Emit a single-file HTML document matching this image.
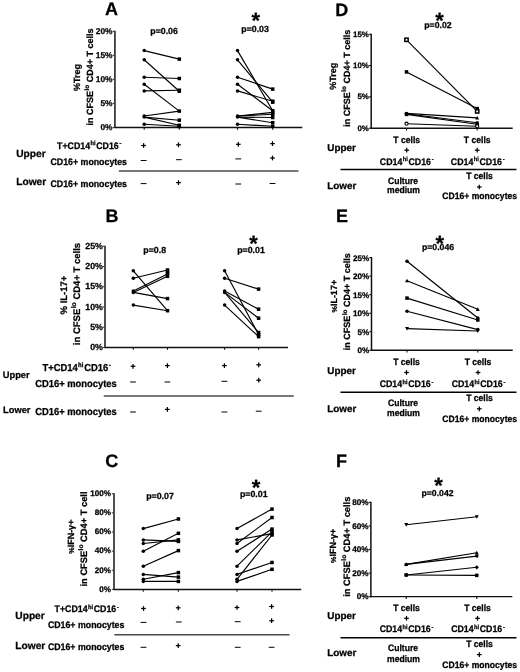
<!DOCTYPE html><html><head><meta charset="utf-8"><style>html,body{margin:0;padding:0;background:#fff;}svg{display:block;will-change:transform;}</style></head><body>
<svg width="520" height="672" viewBox="0 0 520 672" font-family="Liberation Sans" font-weight="bold" fill="#000" text-rendering="geometricPrecision">
<rect width="520" height="672" fill="#fff"/>
<text x="105.00" y="15.00" font-size="18" text-anchor="start" stroke="#000" stroke-width="0.25" >A</text>
<line x1="114.90" y1="30.70" x2="114.90" y2="128.10" stroke="#3c3c3c" stroke-width="1.8"/>
<line x1="114.20" y1="127.50" x2="302.30" y2="127.50" stroke="#111" stroke-width="1.45"/>
<line x1="112.70" y1="127.50" x2="114.90" y2="127.50" stroke="#3c3c3c" stroke-width="1.1"/>
<text x="112.50" y="130.31" font-size="8.4" text-anchor="end" stroke="#000" stroke-width="0.25" >0%</text>
<line x1="112.70" y1="103.45" x2="114.90" y2="103.45" stroke="#3c3c3c" stroke-width="1.1"/>
<text x="112.50" y="106.26" font-size="8.4" text-anchor="end" stroke="#000" stroke-width="0.25" >5%</text>
<line x1="112.70" y1="79.40" x2="114.90" y2="79.40" stroke="#3c3c3c" stroke-width="1.1"/>
<text x="112.50" y="82.21" font-size="8.4" text-anchor="end" stroke="#000" stroke-width="0.25" >10%</text>
<line x1="112.70" y1="55.35" x2="114.90" y2="55.35" stroke="#3c3c3c" stroke-width="1.1"/>
<text x="112.50" y="58.16" font-size="8.4" text-anchor="end" stroke="#000" stroke-width="0.25" >15%</text>
<line x1="112.70" y1="31.30" x2="114.90" y2="31.30" stroke="#3c3c3c" stroke-width="1.1"/>
<text x="112.50" y="34.11" font-size="8.4" text-anchor="end" stroke="#000" stroke-width="0.25" >20%</text>
<line x1="144.20" y1="127.50" x2="144.20" y2="129.80" stroke="#111" stroke-width="1.1"/>
<line x1="179.30" y1="127.50" x2="179.30" y2="129.80" stroke="#111" stroke-width="1.1"/>
<line x1="237.50" y1="127.50" x2="237.50" y2="129.80" stroke="#111" stroke-width="1.1"/>
<line x1="272.70" y1="127.50" x2="272.70" y2="129.80" stroke="#111" stroke-width="1.1"/>
<line x1="144.20" y1="50.60" x2="179.30" y2="59.10" stroke="#000" stroke-width="1.15"/>
<line x1="144.20" y1="59.80" x2="179.30" y2="91.20" stroke="#000" stroke-width="1.15"/>
<line x1="144.20" y1="77.20" x2="179.30" y2="78.50" stroke="#000" stroke-width="1.15"/>
<line x1="144.20" y1="84.30" x2="179.30" y2="111.10" stroke="#000" stroke-width="1.15"/>
<line x1="144.20" y1="90.90" x2="179.30" y2="90.20" stroke="#000" stroke-width="1.15"/>
<line x1="144.20" y1="116.00" x2="179.30" y2="111.10" stroke="#000" stroke-width="1.15"/>
<line x1="144.20" y1="117.10" x2="179.30" y2="120.20" stroke="#000" stroke-width="1.15"/>
<line x1="144.20" y1="117.10" x2="179.30" y2="125.30" stroke="#000" stroke-width="1.15"/>
<line x1="144.20" y1="124.20" x2="179.30" y2="126.30" stroke="#000" stroke-width="1.15"/>
<circle cx="144.20" cy="50.60" r="1.75" fill="#000"/>
<circle cx="144.20" cy="59.80" r="1.75" fill="#000"/>
<circle cx="144.20" cy="77.20" r="1.75" fill="#000"/>
<circle cx="144.20" cy="84.30" r="1.75" fill="#000"/>
<circle cx="144.20" cy="90.90" r="1.75" fill="#000"/>
<circle cx="144.20" cy="116.00" r="1.75" fill="#000"/>
<circle cx="144.20" cy="117.10" r="1.75" fill="#000"/>
<circle cx="144.20" cy="124.20" r="1.75" fill="#000"/>
<rect x="177.55" y="57.35" width="3.50" height="3.50" fill="#000"/>
<rect x="177.55" y="76.75" width="3.50" height="3.50" fill="#000"/>
<rect x="177.55" y="88.45" width="3.50" height="3.50" fill="#000"/>
<rect x="177.55" y="89.45" width="3.50" height="3.50" fill="#000"/>
<rect x="177.55" y="109.35" width="3.50" height="3.50" fill="#000"/>
<rect x="177.55" y="118.45" width="3.50" height="3.50" fill="#000"/>
<rect x="177.55" y="123.55" width="3.50" height="3.50" fill="#000"/>
<rect x="177.55" y="124.55" width="3.50" height="3.50" fill="#000"/>
<line x1="237.50" y1="50.60" x2="272.70" y2="110.70" stroke="#000" stroke-width="1.15"/>
<line x1="237.50" y1="59.80" x2="272.70" y2="102.20" stroke="#000" stroke-width="1.15"/>
<line x1="237.50" y1="77.20" x2="272.70" y2="89.10" stroke="#000" stroke-width="1.15"/>
<line x1="237.50" y1="84.30" x2="272.70" y2="110.70" stroke="#000" stroke-width="1.15"/>
<line x1="237.50" y1="90.90" x2="272.70" y2="101.20" stroke="#000" stroke-width="1.15"/>
<line x1="237.50" y1="116.00" x2="272.70" y2="112.40" stroke="#000" stroke-width="1.15"/>
<line x1="237.50" y1="116.00" x2="272.70" y2="114.30" stroke="#000" stroke-width="1.15"/>
<line x1="237.50" y1="117.10" x2="272.70" y2="117.50" stroke="#000" stroke-width="1.15"/>
<line x1="237.50" y1="117.10" x2="272.70" y2="122.70" stroke="#000" stroke-width="1.15"/>
<line x1="237.50" y1="124.20" x2="272.70" y2="126.30" stroke="#000" stroke-width="1.15"/>
<circle cx="237.50" cy="50.60" r="1.75" fill="#000"/>
<circle cx="237.50" cy="59.80" r="1.75" fill="#000"/>
<circle cx="237.50" cy="77.20" r="1.75" fill="#000"/>
<circle cx="237.50" cy="84.30" r="1.75" fill="#000"/>
<circle cx="237.50" cy="90.90" r="1.75" fill="#000"/>
<circle cx="237.50" cy="116.00" r="1.75" fill="#000"/>
<circle cx="237.50" cy="117.10" r="1.75" fill="#000"/>
<circle cx="237.50" cy="124.20" r="1.75" fill="#000"/>
<rect x="270.95" y="87.35" width="3.50" height="3.50" fill="#000"/>
<rect x="270.95" y="99.45" width="3.50" height="3.50" fill="#000"/>
<rect x="270.95" y="100.45" width="3.50" height="3.50" fill="#000"/>
<rect x="270.95" y="108.95" width="3.50" height="3.50" fill="#000"/>
<rect x="270.95" y="110.65" width="3.50" height="3.50" fill="#000"/>
<rect x="270.95" y="112.55" width="3.50" height="3.50" fill="#000"/>
<rect x="270.95" y="115.75" width="3.50" height="3.50" fill="#000"/>
<rect x="270.95" y="120.95" width="3.50" height="3.50" fill="#000"/>
<rect x="270.95" y="124.55" width="3.50" height="3.50" fill="#000"/>
<text x="164.10" y="33.70" font-size="8.8" text-anchor="middle" stroke="#000" stroke-width="0.25" >p=0.06</text>
<text x="255.10" y="31.80" font-size="8.8" text-anchor="middle" stroke="#000" stroke-width="0.25" >p=0.03</text>
<text x="255.80" y="27.50" font-size="22" text-anchor="middle" stroke="#000" stroke-width="0.25" >*</text>
<text x="0" y="0" font-size="9" text-anchor="middle" stroke="#000" stroke-width="0.25" transform="translate(80.40,77.60) rotate(-90)">%Treg</text>
<text x="0" y="0" font-size="9" text-anchor="middle" stroke="#000" stroke-width="0.25" transform="translate(93.00,77.00) rotate(-90)">in CFSE<tspan font-size="6.48" dx="0.4" dy="-3.60">lo</tspan><tspan dy="3.60"> CD4+ T cells</tspan></text>
<text transform="translate(121.30,148.80) scale(1,1.08)" font-size="8.8" text-anchor="end" stroke="#000" stroke-width="0.25" >T+CD14<tspan font-size="5.63" dx="0.42" dy="-3.17">hi</tspan><tspan dx="0.70" dy="3.17">CD16</tspan><tspan font-size="5.63" dx="0.70" dy="-3.17">-</tspan></text>
<text transform="translate(127.00,165.00) scale(1,1.08)" font-size="8.8" text-anchor="end" stroke="#000" stroke-width="0.25" >CD16+ monocytes</text>
<text transform="translate(127.00,187.00) scale(1,1.08)" font-size="8.8" text-anchor="end" stroke="#000" stroke-width="0.25" >CD16+ monocytes</text>
<text x="16.20" y="156.80" font-size="10.2" text-anchor="start" stroke="#000" stroke-width="0.25" >Upper</text>
<text x="16.20" y="185.20" font-size="10.2" text-anchor="start" stroke="#000" stroke-width="0.25" >Lower</text>
<line x1="141.25" y1="145.50" x2="145.95" y2="145.50" stroke="#000" stroke-width="1.25"/>
<line x1="143.60" y1="143.15" x2="143.60" y2="147.85" stroke="#000" stroke-width="1.25"/>
<line x1="176.15" y1="144.80" x2="180.85" y2="144.80" stroke="#000" stroke-width="1.25"/>
<line x1="178.50" y1="142.45" x2="178.50" y2="147.15" stroke="#000" stroke-width="1.25"/>
<line x1="235.95" y1="144.30" x2="240.65" y2="144.30" stroke="#000" stroke-width="1.25"/>
<line x1="238.30" y1="141.95" x2="238.30" y2="146.65" stroke="#000" stroke-width="1.25"/>
<line x1="270.15" y1="143.60" x2="274.85" y2="143.60" stroke="#000" stroke-width="1.25"/>
<line x1="272.50" y1="141.25" x2="272.50" y2="145.95" stroke="#000" stroke-width="1.25"/>
<line x1="140.70" y1="160.50" x2="146.50" y2="160.50" stroke="#000" stroke-width="1.0"/>
<line x1="176.00" y1="159.70" x2="181.80" y2="159.70" stroke="#000" stroke-width="1.0"/>
<line x1="235.40" y1="158.90" x2="241.20" y2="158.90" stroke="#000" stroke-width="1.0"/>
<line x1="270.15" y1="158.00" x2="274.85" y2="158.00" stroke="#000" stroke-width="1.25"/>
<line x1="272.50" y1="155.65" x2="272.50" y2="160.35" stroke="#000" stroke-width="1.25"/>
<line x1="140.70" y1="183.60" x2="146.50" y2="183.60" stroke="#000" stroke-width="1.0"/>
<line x1="176.15" y1="182.60" x2="180.85" y2="182.60" stroke="#000" stroke-width="1.25"/>
<line x1="178.50" y1="180.25" x2="178.50" y2="184.95" stroke="#000" stroke-width="1.25"/>
<line x1="235.40" y1="184.00" x2="241.20" y2="184.00" stroke="#000" stroke-width="1.0"/>
<line x1="269.60" y1="183.50" x2="275.40" y2="183.50" stroke="#000" stroke-width="1.0"/>
<line x1="118.80" y1="171.00" x2="298.50" y2="171.00" stroke="#4a4a4a" stroke-width="1.5"/>
<text x="105.60" y="221.80" font-size="18" text-anchor="start" stroke="#000" stroke-width="0.25" >B</text>
<line x1="105.00" y1="245.70" x2="105.00" y2="348.10" stroke="#3c3c3c" stroke-width="1.8"/>
<line x1="104.30" y1="347.50" x2="288.00" y2="347.50" stroke="#111" stroke-width="1.45"/>
<line x1="102.80" y1="347.50" x2="105.00" y2="347.50" stroke="#3c3c3c" stroke-width="1.1"/>
<text x="102.90" y="350.15" font-size="8.8" text-anchor="end" stroke="#000" stroke-width="0.25" >0%</text>
<line x1="102.80" y1="327.26" x2="105.00" y2="327.26" stroke="#3c3c3c" stroke-width="1.1"/>
<text x="102.90" y="329.91" font-size="8.8" text-anchor="end" stroke="#000" stroke-width="0.25" >5%</text>
<line x1="102.80" y1="307.02" x2="105.00" y2="307.02" stroke="#3c3c3c" stroke-width="1.1"/>
<text x="102.90" y="309.67" font-size="8.8" text-anchor="end" stroke="#000" stroke-width="0.25" >10%</text>
<line x1="102.80" y1="286.78" x2="105.00" y2="286.78" stroke="#3c3c3c" stroke-width="1.1"/>
<text x="102.90" y="289.43" font-size="8.8" text-anchor="end" stroke="#000" stroke-width="0.25" >15%</text>
<line x1="102.80" y1="266.54" x2="105.00" y2="266.54" stroke="#3c3c3c" stroke-width="1.1"/>
<text x="102.90" y="269.19" font-size="8.8" text-anchor="end" stroke="#000" stroke-width="0.25" >20%</text>
<line x1="102.80" y1="246.30" x2="105.00" y2="246.30" stroke="#3c3c3c" stroke-width="1.1"/>
<text x="102.90" y="248.95" font-size="8.8" text-anchor="end" stroke="#000" stroke-width="0.25" >25%</text>
<line x1="133.30" y1="347.50" x2="133.30" y2="349.80" stroke="#111" stroke-width="1.1"/>
<line x1="167.50" y1="347.50" x2="167.50" y2="349.80" stroke="#111" stroke-width="1.1"/>
<line x1="224.60" y1="347.50" x2="224.60" y2="349.80" stroke="#111" stroke-width="1.1"/>
<line x1="258.60" y1="347.50" x2="258.60" y2="349.80" stroke="#111" stroke-width="1.1"/>
<line x1="133.30" y1="270.80" x2="167.50" y2="310.70" stroke="#000" stroke-width="1.15"/>
<line x1="133.30" y1="278.30" x2="167.50" y2="270.00" stroke="#000" stroke-width="1.15"/>
<line x1="133.30" y1="291.10" x2="167.50" y2="273.90" stroke="#000" stroke-width="1.15"/>
<line x1="133.30" y1="292.40" x2="167.50" y2="276.30" stroke="#000" stroke-width="1.15"/>
<line x1="133.30" y1="292.40" x2="167.50" y2="298.60" stroke="#000" stroke-width="1.15"/>
<line x1="133.30" y1="305.10" x2="167.50" y2="310.70" stroke="#000" stroke-width="1.15"/>
<circle cx="133.30" cy="270.80" r="1.75" fill="#000"/>
<circle cx="133.30" cy="278.30" r="1.75" fill="#000"/>
<circle cx="133.30" cy="291.10" r="1.75" fill="#000"/>
<circle cx="133.30" cy="292.40" r="1.75" fill="#000"/>
<circle cx="133.30" cy="305.10" r="1.75" fill="#000"/>
<rect x="165.75" y="268.25" width="3.50" height="3.50" fill="#000"/>
<rect x="165.75" y="270.45" width="3.50" height="3.50" fill="#000"/>
<rect x="165.75" y="272.15" width="3.50" height="3.50" fill="#000"/>
<rect x="165.75" y="274.55" width="3.50" height="3.50" fill="#000"/>
<rect x="165.75" y="296.85" width="3.50" height="3.50" fill="#000"/>
<rect x="165.75" y="308.95" width="3.50" height="3.50" fill="#000"/>
<line x1="224.60" y1="270.80" x2="258.60" y2="334.60" stroke="#000" stroke-width="1.15"/>
<line x1="224.60" y1="278.30" x2="258.60" y2="289.10" stroke="#000" stroke-width="1.15"/>
<line x1="224.60" y1="291.10" x2="258.60" y2="309.20" stroke="#000" stroke-width="1.15"/>
<line x1="224.60" y1="292.40" x2="258.60" y2="318.20" stroke="#000" stroke-width="1.15"/>
<line x1="224.60" y1="292.40" x2="258.60" y2="332.50" stroke="#000" stroke-width="1.15"/>
<line x1="224.60" y1="305.10" x2="258.60" y2="336.60" stroke="#000" stroke-width="1.15"/>
<circle cx="224.60" cy="270.80" r="1.75" fill="#000"/>
<circle cx="224.60" cy="278.30" r="1.75" fill="#000"/>
<circle cx="224.60" cy="291.10" r="1.75" fill="#000"/>
<circle cx="224.60" cy="292.40" r="1.75" fill="#000"/>
<circle cx="224.60" cy="305.10" r="1.75" fill="#000"/>
<rect x="256.85" y="287.35" width="3.50" height="3.50" fill="#000"/>
<rect x="256.85" y="307.45" width="3.50" height="3.50" fill="#000"/>
<rect x="256.85" y="316.45" width="3.50" height="3.50" fill="#000"/>
<rect x="256.85" y="330.75" width="3.50" height="3.50" fill="#000"/>
<rect x="256.85" y="332.85" width="3.50" height="3.50" fill="#000"/>
<rect x="256.85" y="334.85" width="3.50" height="3.50" fill="#000"/>
<text x="154.70" y="253.10" font-size="8.8" text-anchor="middle" stroke="#000" stroke-width="0.25" >p=0.8</text>
<text x="251.00" y="252.50" font-size="8.8" text-anchor="middle" stroke="#000" stroke-width="0.25" >p=0.01</text>
<text x="253.60" y="251.00" font-size="22" text-anchor="middle" stroke="#000" stroke-width="0.25" >*</text>
<text x="0" y="0" font-size="9.5" text-anchor="middle" stroke="#000" stroke-width="0.25" transform="translate(67.20,295.00) rotate(-90)">% IL-17+</text>
<text x="0" y="0" font-size="9.5" text-anchor="middle" stroke="#000" stroke-width="0.25" transform="translate(80.00,294.00) rotate(-90)">in CFSE<tspan font-size="6.84" dx="0.4" dy="-3.80">lo</tspan><tspan dy="3.80"> CD4+ T cells</tspan></text>
<text transform="translate(110.80,370.50) scale(1,1.08)" font-size="9.4" text-anchor="end" stroke="#000" stroke-width="0.25" >T+CD14<tspan font-size="6.02" dx="0.42" dy="-3.38">hi</tspan><tspan dx="0.70" dy="3.38">CD16</tspan><tspan font-size="6.02" dx="0.70" dy="-3.38">-</tspan></text>
<text transform="translate(116.75,387.00) scale(1,1.08)" font-size="9.4" text-anchor="end" stroke="#000" stroke-width="0.25" >CD16+ monocytes</text>
<text transform="translate(116.75,415.00) scale(1,1.08)" font-size="9.4" text-anchor="end" stroke="#000" stroke-width="0.25" >CD16+ monocytes</text>
<text x="2.80" y="378.40" font-size="9.3" text-anchor="start" stroke="#000" stroke-width="0.25" >Upper</text>
<text x="3.10" y="412.60" font-size="9.3" text-anchor="start" stroke="#000" stroke-width="0.25" >Lower</text>
<line x1="130.65" y1="366.30" x2="135.35" y2="366.30" stroke="#000" stroke-width="1.25"/>
<line x1="133.00" y1="363.95" x2="133.00" y2="368.65" stroke="#000" stroke-width="1.25"/>
<line x1="165.05" y1="365.60" x2="169.75" y2="365.60" stroke="#000" stroke-width="1.25"/>
<line x1="167.40" y1="363.25" x2="167.40" y2="367.95" stroke="#000" stroke-width="1.25"/>
<line x1="222.05" y1="365.60" x2="226.75" y2="365.60" stroke="#000" stroke-width="1.25"/>
<line x1="224.40" y1="363.25" x2="224.40" y2="367.95" stroke="#000" stroke-width="1.25"/>
<line x1="256.35" y1="364.80" x2="261.05" y2="364.80" stroke="#000" stroke-width="1.25"/>
<line x1="258.70" y1="362.45" x2="258.70" y2="367.15" stroke="#000" stroke-width="1.25"/>
<line x1="130.10" y1="382.00" x2="135.90" y2="382.00" stroke="#000" stroke-width="1.0"/>
<line x1="164.50" y1="382.00" x2="170.30" y2="382.00" stroke="#000" stroke-width="1.0"/>
<line x1="221.50" y1="381.30" x2="227.30" y2="381.30" stroke="#000" stroke-width="1.0"/>
<line x1="256.35" y1="380.20" x2="261.05" y2="380.20" stroke="#000" stroke-width="1.25"/>
<line x1="258.70" y1="377.85" x2="258.70" y2="382.55" stroke="#000" stroke-width="1.25"/>
<line x1="130.10" y1="412.00" x2="135.90" y2="412.00" stroke="#000" stroke-width="1.0"/>
<line x1="165.05" y1="409.40" x2="169.75" y2="409.40" stroke="#000" stroke-width="1.25"/>
<line x1="167.40" y1="407.05" x2="167.40" y2="411.75" stroke="#000" stroke-width="1.25"/>
<line x1="221.50" y1="412.00" x2="227.30" y2="412.00" stroke="#000" stroke-width="1.0"/>
<line x1="255.80" y1="411.20" x2="261.60" y2="411.20" stroke="#000" stroke-width="1.0"/>
<line x1="103.75" y1="395.90" x2="293.80" y2="395.90" stroke="#4a4a4a" stroke-width="1.5"/>
<text x="105.30" y="467.00" font-size="18" text-anchor="start" stroke="#000" stroke-width="0.25" >C</text>
<line x1="114.00" y1="493.15" x2="114.00" y2="590.00" stroke="#3c3c3c" stroke-width="1.8"/>
<line x1="113.30" y1="589.40" x2="301.20" y2="589.40" stroke="#111" stroke-width="1.45"/>
<line x1="111.80" y1="589.40" x2="114.00" y2="589.40" stroke="#3c3c3c" stroke-width="1.1"/>
<text x="110.90" y="591.70" font-size="8.1" text-anchor="end" stroke="#000" stroke-width="0.25" >0%</text>
<line x1="111.80" y1="570.27" x2="114.00" y2="570.27" stroke="#3c3c3c" stroke-width="1.1"/>
<text x="110.90" y="572.57" font-size="8.1" text-anchor="end" stroke="#000" stroke-width="0.25" >20%</text>
<line x1="111.80" y1="551.14" x2="114.00" y2="551.14" stroke="#3c3c3c" stroke-width="1.1"/>
<text x="110.90" y="553.44" font-size="8.1" text-anchor="end" stroke="#000" stroke-width="0.25" >40%</text>
<line x1="111.80" y1="532.01" x2="114.00" y2="532.01" stroke="#3c3c3c" stroke-width="1.1"/>
<text x="110.90" y="534.31" font-size="8.1" text-anchor="end" stroke="#000" stroke-width="0.25" >60%</text>
<line x1="111.80" y1="512.88" x2="114.00" y2="512.88" stroke="#3c3c3c" stroke-width="1.1"/>
<text x="110.90" y="515.18" font-size="8.1" text-anchor="end" stroke="#000" stroke-width="0.25" >80%</text>
<line x1="111.80" y1="493.75" x2="114.00" y2="493.75" stroke="#3c3c3c" stroke-width="1.1"/>
<text x="110.90" y="496.05" font-size="8.1" text-anchor="end" stroke="#000" stroke-width="0.25" >100%</text>
<line x1="143.30" y1="589.40" x2="143.30" y2="591.70" stroke="#111" stroke-width="1.1"/>
<line x1="178.40" y1="589.40" x2="178.40" y2="591.70" stroke="#111" stroke-width="1.1"/>
<line x1="237.00" y1="589.40" x2="237.00" y2="591.70" stroke="#111" stroke-width="1.1"/>
<line x1="272.00" y1="589.40" x2="272.00" y2="591.70" stroke="#111" stroke-width="1.1"/>
<line x1="143.30" y1="528.60" x2="178.40" y2="519.00" stroke="#000" stroke-width="1.15"/>
<line x1="143.30" y1="539.90" x2="178.40" y2="541.40" stroke="#000" stroke-width="1.15"/>
<line x1="143.30" y1="543.50" x2="178.40" y2="539.90" stroke="#000" stroke-width="1.15"/>
<line x1="143.30" y1="551.30" x2="178.40" y2="533.30" stroke="#000" stroke-width="1.15"/>
<line x1="143.30" y1="566.20" x2="178.40" y2="550.60" stroke="#000" stroke-width="1.15"/>
<line x1="143.30" y1="574.40" x2="178.40" y2="577.10" stroke="#000" stroke-width="1.15"/>
<line x1="143.30" y1="579.30" x2="178.40" y2="572.60" stroke="#000" stroke-width="1.15"/>
<line x1="143.30" y1="581.40" x2="178.40" y2="581.40" stroke="#000" stroke-width="1.15"/>
<circle cx="143.30" cy="528.60" r="1.75" fill="#000"/>
<circle cx="143.30" cy="539.90" r="1.75" fill="#000"/>
<circle cx="143.30" cy="543.50" r="1.75" fill="#000"/>
<circle cx="143.30" cy="551.30" r="1.75" fill="#000"/>
<circle cx="143.30" cy="566.20" r="1.75" fill="#000"/>
<circle cx="143.30" cy="574.40" r="1.75" fill="#000"/>
<circle cx="143.30" cy="579.30" r="1.75" fill="#000"/>
<circle cx="143.30" cy="581.40" r="1.75" fill="#000"/>
<rect x="176.65" y="517.25" width="3.50" height="3.50" fill="#000"/>
<rect x="176.65" y="531.55" width="3.50" height="3.50" fill="#000"/>
<rect x="176.65" y="538.15" width="3.50" height="3.50" fill="#000"/>
<rect x="176.65" y="539.65" width="3.50" height="3.50" fill="#000"/>
<rect x="176.65" y="548.85" width="3.50" height="3.50" fill="#000"/>
<rect x="176.65" y="570.85" width="3.50" height="3.50" fill="#000"/>
<rect x="176.65" y="575.35" width="3.50" height="3.50" fill="#000"/>
<rect x="176.65" y="579.65" width="3.50" height="3.50" fill="#000"/>
<line x1="237.00" y1="528.60" x2="272.00" y2="509.10" stroke="#000" stroke-width="1.15"/>
<line x1="237.00" y1="539.90" x2="272.00" y2="533.60" stroke="#000" stroke-width="1.15"/>
<line x1="237.00" y1="543.50" x2="272.00" y2="517.50" stroke="#000" stroke-width="1.15"/>
<line x1="237.00" y1="551.30" x2="272.00" y2="529.10" stroke="#000" stroke-width="1.15"/>
<line x1="237.00" y1="566.20" x2="272.00" y2="531.80" stroke="#000" stroke-width="1.15"/>
<line x1="237.00" y1="574.40" x2="272.00" y2="562.50" stroke="#000" stroke-width="1.15"/>
<line x1="237.00" y1="579.30" x2="272.00" y2="535.00" stroke="#000" stroke-width="1.15"/>
<line x1="237.00" y1="581.40" x2="272.00" y2="569.30" stroke="#000" stroke-width="1.15"/>
<circle cx="237.00" cy="528.60" r="1.75" fill="#000"/>
<circle cx="237.00" cy="539.90" r="1.75" fill="#000"/>
<circle cx="237.00" cy="543.50" r="1.75" fill="#000"/>
<circle cx="237.00" cy="551.30" r="1.75" fill="#000"/>
<circle cx="237.00" cy="566.20" r="1.75" fill="#000"/>
<circle cx="237.00" cy="574.40" r="1.75" fill="#000"/>
<circle cx="237.00" cy="579.30" r="1.75" fill="#000"/>
<circle cx="237.00" cy="581.40" r="1.75" fill="#000"/>
<rect x="270.25" y="507.35" width="3.50" height="3.50" fill="#000"/>
<rect x="270.25" y="515.75" width="3.50" height="3.50" fill="#000"/>
<rect x="270.25" y="527.35" width="3.50" height="3.50" fill="#000"/>
<rect x="270.25" y="530.05" width="3.50" height="3.50" fill="#000"/>
<rect x="270.25" y="531.85" width="3.50" height="3.50" fill="#000"/>
<rect x="270.25" y="533.25" width="3.50" height="3.50" fill="#000"/>
<rect x="270.25" y="560.75" width="3.50" height="3.50" fill="#000"/>
<rect x="270.25" y="567.55" width="3.50" height="3.50" fill="#000"/>
<text x="160.00" y="498.80" font-size="8.8" text-anchor="middle" stroke="#000" stroke-width="0.25" >p=0.07</text>
<text x="253.80" y="496.50" font-size="8.8" text-anchor="middle" stroke="#000" stroke-width="0.25" >p=0.01</text>
<text x="256.00" y="495.10" font-size="22" text-anchor="middle" stroke="#000" stroke-width="0.25" >*</text>
<text x="0" y="0" font-size="9" text-anchor="middle" stroke="#000" stroke-width="0.25" transform="translate(74.00,536.70) rotate(-90)"><tspan font-size="7.2">%</tspan>IFN-&#947;+</text>
<text x="0" y="0" font-size="9.3" text-anchor="middle" stroke="#000" stroke-width="0.25" transform="translate(87.20,539.00) rotate(-90)">in CFSE<tspan font-size="6.70" dx="0.4" dy="-3.72">lo</tspan><tspan dy="3.72"> CD4+ T cell</tspan></text>
<text transform="translate(118.80,612.40) scale(1,1.08)" font-size="8.8" text-anchor="end" stroke="#000" stroke-width="0.25" >T+CD14<tspan font-size="5.63" dx="0.42" dy="-3.17">hi</tspan><tspan dx="0.70" dy="3.17">CD16</tspan><tspan font-size="5.63" dx="0.70" dy="-3.17">-</tspan></text>
<text transform="translate(124.40,627.80) scale(1,1.08)" font-size="8.8" text-anchor="end" stroke="#000" stroke-width="0.25" >CD16+ monocytes</text>
<text transform="translate(124.40,650.20) scale(1,1.08)" font-size="8.8" text-anchor="end" stroke="#000" stroke-width="0.25" >CD16+ monocytes</text>
<text x="15.30" y="618.80" font-size="10.2" text-anchor="start" stroke="#000" stroke-width="0.25" >Upper</text>
<text x="15.30" y="648.50" font-size="10.2" text-anchor="start" stroke="#000" stroke-width="0.25" >Lower</text>
<line x1="141.15" y1="608.50" x2="145.85" y2="608.50" stroke="#000" stroke-width="1.25"/>
<line x1="143.50" y1="606.15" x2="143.50" y2="610.85" stroke="#000" stroke-width="1.25"/>
<line x1="175.85" y1="607.80" x2="180.55" y2="607.80" stroke="#000" stroke-width="1.25"/>
<line x1="178.20" y1="605.45" x2="178.20" y2="610.15" stroke="#000" stroke-width="1.25"/>
<line x1="234.65" y1="607.50" x2="239.35" y2="607.50" stroke="#000" stroke-width="1.25"/>
<line x1="237.00" y1="605.15" x2="237.00" y2="609.85" stroke="#000" stroke-width="1.25"/>
<line x1="269.25" y1="606.50" x2="273.95" y2="606.50" stroke="#000" stroke-width="1.25"/>
<line x1="271.60" y1="604.15" x2="271.60" y2="608.85" stroke="#000" stroke-width="1.25"/>
<line x1="140.60" y1="622.40" x2="146.40" y2="622.40" stroke="#000" stroke-width="1.0"/>
<line x1="175.90" y1="622.00" x2="181.70" y2="622.00" stroke="#000" stroke-width="1.0"/>
<line x1="234.80" y1="621.70" x2="240.60" y2="621.70" stroke="#000" stroke-width="1.0"/>
<line x1="269.25" y1="620.70" x2="273.95" y2="620.70" stroke="#000" stroke-width="1.25"/>
<line x1="271.60" y1="618.35" x2="271.60" y2="623.05" stroke="#000" stroke-width="1.25"/>
<line x1="140.60" y1="647.30" x2="146.40" y2="647.30" stroke="#000" stroke-width="1.0"/>
<line x1="175.85" y1="645.60" x2="180.55" y2="645.60" stroke="#000" stroke-width="1.25"/>
<line x1="178.20" y1="643.25" x2="178.20" y2="647.95" stroke="#000" stroke-width="1.25"/>
<line x1="234.80" y1="647.30" x2="240.60" y2="647.30" stroke="#000" stroke-width="1.0"/>
<line x1="268.70" y1="647.30" x2="274.50" y2="647.30" stroke="#000" stroke-width="1.0"/>
<line x1="114.40" y1="634.80" x2="289.50" y2="634.80" stroke="#4a4a4a" stroke-width="1.5"/>
<text x="335.20" y="15.50" font-size="18" text-anchor="start" stroke="#000" stroke-width="0.25" >D</text>
<line x1="371.20" y1="33.70" x2="371.20" y2="128.80" stroke="#111" stroke-width="1.5"/>
<line x1="370.50" y1="128.20" x2="512.70" y2="128.20" stroke="#111" stroke-width="1.45"/>
<line x1="369.00" y1="128.20" x2="371.20" y2="128.20" stroke="#111" stroke-width="1.1"/>
<text x="368.80" y="130.73" font-size="7.9" text-anchor="end" stroke="#000" stroke-width="0.25" >0%</text>
<line x1="369.00" y1="96.90" x2="371.20" y2="96.90" stroke="#111" stroke-width="1.1"/>
<text x="368.80" y="99.43" font-size="7.9" text-anchor="end" stroke="#000" stroke-width="0.25" >5%</text>
<line x1="369.00" y1="65.60" x2="371.20" y2="65.60" stroke="#111" stroke-width="1.1"/>
<text x="368.80" y="68.13" font-size="7.9" text-anchor="end" stroke="#000" stroke-width="0.25" >10%</text>
<line x1="369.00" y1="34.30" x2="371.20" y2="34.30" stroke="#111" stroke-width="1.1"/>
<text x="368.80" y="36.83" font-size="7.9" text-anchor="end" stroke="#000" stroke-width="0.25" >15%</text>
<line x1="406.50" y1="128.20" x2="406.50" y2="130.50" stroke="#111" stroke-width="1.1"/>
<line x1="477.20" y1="128.20" x2="477.20" y2="130.50" stroke="#111" stroke-width="1.1"/>
<line x1="406.50" y1="39.80" x2="477.20" y2="111.40" stroke="#000" stroke-width="1.15"/>
<line x1="406.50" y1="71.90" x2="477.20" y2="108.60" stroke="#000" stroke-width="1.15"/>
<line x1="406.50" y1="113.40" x2="477.20" y2="117.90" stroke="#000" stroke-width="1.15"/>
<line x1="406.50" y1="114.40" x2="477.20" y2="124.20" stroke="#000" stroke-width="1.15"/>
<line x1="406.50" y1="113.80" x2="477.20" y2="122.80" stroke="#000" stroke-width="1.15"/>
<line x1="406.50" y1="123.70" x2="477.20" y2="126.30" stroke="#000" stroke-width="1.15"/>
<rect x="404.85" y="38.15" width="3.30" height="3.30" fill="#fff" stroke="#000" stroke-width="1.5"/>
<rect x="404.75" y="70.15" width="3.50" height="3.50" fill="#000"/>
<circle cx="406.50" cy="113.40" r="1.75" fill="#000"/>
<rect x="404.75" y="112.65" width="3.50" height="3.50" fill="#000"/>
<path d="M404.40 113.80L406.50 111.70L408.60 113.80L406.50 115.90Z" fill="#000"/>
<circle cx="406.50" cy="123.70" r="1.60" fill="#fff" stroke="#000" stroke-width="1.1"/>
<rect x="475.45" y="106.85" width="3.50" height="3.50" fill="#000"/>
<rect x="475.55" y="109.75" width="3.30" height="3.30" fill="#fff" stroke="#000" stroke-width="1.5"/>
<path d="M475.20 119.50L479.20 119.50L477.20 115.90Z" fill="#000"/>
<circle cx="477.20" cy="122.80" r="1.75" fill="#000"/>
<path d="M475.10 124.20L477.20 122.10L479.30 124.20L477.20 126.30Z" fill="#000"/>
<rect x="475.45" y="123.65" width="3.50" height="3.50" fill="#000"/>
<circle cx="477.20" cy="126.30" r="1.60" fill="#fff" stroke="#000" stroke-width="1.1"/>
<text x="437.90" y="27.50" font-size="8.7" text-anchor="middle" stroke="#000" stroke-width="0.25" >p=0.02</text>
<text x="439.60" y="27.80" font-size="22" text-anchor="middle" stroke="#000" stroke-width="0.25" >*</text>
<text x="0" y="0" font-size="9" text-anchor="middle" stroke="#000" stroke-width="0.25" transform="translate(336.30,76.30) rotate(-90)">%Treg</text>
<text x="0" y="0" font-size="9" text-anchor="middle" stroke="#000" stroke-width="0.25" transform="translate(349.60,78.30) rotate(-90)">in CFSE<tspan font-size="6.48" dx="0.4" dy="-3.60">lo</tspan><tspan dy="3.60"> CD4+ T cells</tspan></text>
<text transform="translate(406.70,142.60) scale(1,1.08)" font-size="8.6" text-anchor="middle" stroke="#000" stroke-width="0.25" >T cells</text>
<text transform="translate(477.20,142.60) scale(1,1.08)" font-size="8.6" text-anchor="middle" stroke="#000" stroke-width="0.25" >T cells</text>
<line x1="404.35" y1="150.20" x2="409.05" y2="150.20" stroke="#000" stroke-width="1.25"/>
<line x1="406.70" y1="147.85" x2="406.70" y2="152.55" stroke="#000" stroke-width="1.25"/>
<line x1="474.85" y1="150.20" x2="479.55" y2="150.20" stroke="#000" stroke-width="1.25"/>
<line x1="477.20" y1="147.85" x2="477.20" y2="152.55" stroke="#000" stroke-width="1.25"/>
<text transform="translate(406.70,164.80) scale(1,1.08)" font-size="8.8" text-anchor="middle" stroke="#000" stroke-width="0.25" >CD14<tspan font-size="5.63" dx="0.42" dy="-3.17">hi</tspan><tspan dx="0.70" dy="3.17">CD16</tspan><tspan font-size="5.63" dx="0.70" dy="-3.17">-</tspan></text>
<text transform="translate(477.70,164.80) scale(1,1.08)" font-size="8.8" text-anchor="middle" stroke="#000" stroke-width="0.25" >CD14<tspan font-size="5.63" dx="0.42" dy="-3.17">hi</tspan><tspan dx="0.70" dy="3.17">CD16</tspan><tspan font-size="5.63" dx="0.70" dy="-3.17">-</tspan></text>
<text x="327.30" y="151.10" font-size="9.9" text-anchor="start" stroke="#000" stroke-width="0.25" >Upper</text>
<text x="327.30" y="188.50" font-size="9.9" text-anchor="start" stroke="#000" stroke-width="0.25" >Lower</text>
<line x1="340.50" y1="169.50" x2="516.50" y2="169.50" stroke="#000" stroke-width="1.5"/>
<text transform="translate(403.00,183.70) scale(1,1.08)" font-size="8.6" text-anchor="middle" stroke="#000" stroke-width="0.25" >Culture</text>
<text transform="translate(403.50,192.80) scale(1,1.08)" font-size="8.6" text-anchor="middle" stroke="#000" stroke-width="0.25" >medium</text>
<text transform="translate(479.50,178.50) scale(1,1.08)" font-size="8.6" text-anchor="middle" stroke="#000" stroke-width="0.25" >T cells</text>
<line x1="476.95" y1="187.00" x2="481.65" y2="187.00" stroke="#000" stroke-width="1.25"/>
<line x1="479.30" y1="184.65" x2="479.30" y2="189.35" stroke="#000" stroke-width="1.25"/>
<text transform="translate(479.70,198.50) scale(1,1.08)" font-size="8.6" text-anchor="middle" stroke="#000" stroke-width="0.25" >CD16+ monocytes</text>
<text x="335.90" y="221.80" font-size="18" text-anchor="start" stroke="#000" stroke-width="0.25" >E</text>
<line x1="371.50" y1="257.00" x2="371.50" y2="350.90" stroke="#111" stroke-width="1.5"/>
<line x1="370.80" y1="350.30" x2="512.70" y2="350.30" stroke="#111" stroke-width="1.45"/>
<line x1="369.30" y1="350.30" x2="371.50" y2="350.30" stroke="#111" stroke-width="1.1"/>
<text x="369.10" y="353.40" font-size="8.1" text-anchor="end" stroke="#000" stroke-width="0.25" >0%</text>
<line x1="369.30" y1="331.76" x2="371.50" y2="331.76" stroke="#111" stroke-width="1.1"/>
<text x="369.10" y="334.86" font-size="8.1" text-anchor="end" stroke="#000" stroke-width="0.25" >5%</text>
<line x1="369.30" y1="313.22" x2="371.50" y2="313.22" stroke="#111" stroke-width="1.1"/>
<text x="369.10" y="316.32" font-size="8.1" text-anchor="end" stroke="#000" stroke-width="0.25" >10%</text>
<line x1="369.30" y1="294.68" x2="371.50" y2="294.68" stroke="#111" stroke-width="1.1"/>
<text x="369.10" y="297.78" font-size="8.1" text-anchor="end" stroke="#000" stroke-width="0.25" >15%</text>
<line x1="369.30" y1="276.14" x2="371.50" y2="276.14" stroke="#111" stroke-width="1.1"/>
<text x="369.10" y="279.24" font-size="8.1" text-anchor="end" stroke="#000" stroke-width="0.25" >20%</text>
<line x1="369.30" y1="257.60" x2="371.50" y2="257.60" stroke="#111" stroke-width="1.1"/>
<text x="369.10" y="260.70" font-size="8.1" text-anchor="end" stroke="#000" stroke-width="0.25" >25%</text>
<line x1="407.00" y1="350.30" x2="407.00" y2="352.60" stroke="#111" stroke-width="1.1"/>
<line x1="477.80" y1="350.30" x2="477.80" y2="352.60" stroke="#111" stroke-width="1.1"/>
<line x1="407.00" y1="261.30" x2="477.80" y2="318.00" stroke="#000" stroke-width="1.15"/>
<line x1="407.00" y1="280.70" x2="477.80" y2="309.30" stroke="#000" stroke-width="1.15"/>
<line x1="407.00" y1="298.10" x2="477.80" y2="320.00" stroke="#000" stroke-width="1.15"/>
<line x1="407.00" y1="311.20" x2="477.80" y2="329.60" stroke="#000" stroke-width="1.15"/>
<line x1="407.00" y1="328.60" x2="477.80" y2="331.00" stroke="#000" stroke-width="1.15"/>
<circle cx="407.00" cy="261.30" r="1.75" fill="#000"/>
<path d="M405.00 282.30L409.00 282.30L407.00 278.70Z" fill="#000"/>
<rect x="405.25" y="296.35" width="3.50" height="3.50" fill="#000"/>
<circle cx="407.00" cy="311.20" r="1.75" fill="#000"/>
<path d="M405.00 327.00L409.00 327.00L407.00 330.60Z" fill="#000"/>
<path d="M475.80 310.90L479.80 310.90L477.80 307.30Z" fill="#000"/>
<circle cx="477.80" cy="318.00" r="1.75" fill="#000"/>
<rect x="476.05" y="318.25" width="3.50" height="3.50" fill="#000"/>
<circle cx="477.80" cy="329.60" r="1.75" fill="#000"/>
<path d="M475.80 329.40L479.80 329.40L477.80 333.00Z" fill="#000"/>
<text x="438.00" y="249.60" font-size="8.7" text-anchor="middle" stroke="#000" stroke-width="0.25" >p=0.046</text>
<text x="439.90" y="251.00" font-size="22" text-anchor="middle" stroke="#000" stroke-width="0.25" >*</text>
<text x="0" y="0" font-size="9" text-anchor="middle" stroke="#000" stroke-width="0.25" transform="translate(337.00,296.20) rotate(-90)"><tspan font-size="7.2">%</tspan>IL-17+</text>
<text x="0" y="0" font-size="9" text-anchor="middle" stroke="#000" stroke-width="0.25" transform="translate(350.30,301.80) rotate(-90)">in CFSE<tspan font-size="6.48" dx="0.4" dy="-3.60">lo</tspan><tspan dy="3.60"> CD4+ T cells</tspan></text>
<text transform="translate(406.50,365.20) scale(1,1.08)" font-size="8.6" text-anchor="middle" stroke="#000" stroke-width="0.25" >T cells</text>
<text transform="translate(478.00,365.20) scale(1,1.08)" font-size="8.6" text-anchor="middle" stroke="#000" stroke-width="0.25" >T cells</text>
<line x1="404.15" y1="372.50" x2="408.85" y2="372.50" stroke="#000" stroke-width="1.25"/>
<line x1="406.50" y1="370.15" x2="406.50" y2="374.85" stroke="#000" stroke-width="1.25"/>
<line x1="475.65" y1="372.50" x2="480.35" y2="372.50" stroke="#000" stroke-width="1.25"/>
<line x1="478.00" y1="370.15" x2="478.00" y2="374.85" stroke="#000" stroke-width="1.25"/>
<text transform="translate(406.50,387.40) scale(1,1.08)" font-size="8.8" text-anchor="middle" stroke="#000" stroke-width="0.25" >CD14<tspan font-size="5.63" dx="0.42" dy="-3.17">hi</tspan><tspan dx="0.70" dy="3.17">CD16</tspan><tspan font-size="5.63" dx="0.70" dy="-3.17">-</tspan></text>
<text transform="translate(478.50,387.40) scale(1,1.08)" font-size="8.8" text-anchor="middle" stroke="#000" stroke-width="0.25" >CD14<tspan font-size="5.63" dx="0.42" dy="-3.17">hi</tspan><tspan dx="0.70" dy="3.17">CD16</tspan><tspan font-size="5.63" dx="0.70" dy="-3.17">-</tspan></text>
<text x="327.30" y="373.90" font-size="9.9" text-anchor="start" stroke="#000" stroke-width="0.25" >Upper</text>
<text x="327.30" y="411.50" font-size="9.9" text-anchor="start" stroke="#000" stroke-width="0.25" >Lower</text>
<line x1="340.50" y1="392.30" x2="516.50" y2="392.30" stroke="#000" stroke-width="1.5"/>
<text transform="translate(403.00,405.60) scale(1,1.08)" font-size="8.6" text-anchor="middle" stroke="#000" stroke-width="0.25" >Culture</text>
<text transform="translate(403.50,415.70) scale(1,1.08)" font-size="8.6" text-anchor="middle" stroke="#000" stroke-width="0.25" >medium</text>
<text transform="translate(479.50,400.70) scale(1,1.08)" font-size="8.6" text-anchor="middle" stroke="#000" stroke-width="0.25" >T cells</text>
<line x1="476.95" y1="408.80" x2="481.65" y2="408.80" stroke="#000" stroke-width="1.25"/>
<line x1="479.30" y1="406.45" x2="479.30" y2="411.15" stroke="#000" stroke-width="1.25"/>
<text transform="translate(479.70,421.70) scale(1,1.08)" font-size="8.6" text-anchor="middle" stroke="#000" stroke-width="0.25" >CD16+ monocytes</text>
<text x="336.10" y="467.20" font-size="18" text-anchor="start" stroke="#000" stroke-width="0.25" >F</text>
<line x1="370.90" y1="501.80" x2="370.90" y2="597.20" stroke="#111" stroke-width="1.5"/>
<line x1="370.20" y1="596.60" x2="512.30" y2="596.60" stroke="#111" stroke-width="1.45"/>
<line x1="368.70" y1="596.60" x2="370.90" y2="596.60" stroke="#111" stroke-width="1.1"/>
<text x="368.60" y="599.24" font-size="8.2" text-anchor="end" stroke="#000" stroke-width="0.25" >0%</text>
<line x1="368.70" y1="573.05" x2="370.90" y2="573.05" stroke="#111" stroke-width="1.1"/>
<text x="368.60" y="575.69" font-size="8.2" text-anchor="end" stroke="#000" stroke-width="0.25" >20%</text>
<line x1="368.70" y1="549.50" x2="370.90" y2="549.50" stroke="#111" stroke-width="1.1"/>
<text x="368.60" y="552.14" font-size="8.2" text-anchor="end" stroke="#000" stroke-width="0.25" >40%</text>
<line x1="368.70" y1="525.95" x2="370.90" y2="525.95" stroke="#111" stroke-width="1.1"/>
<text x="368.60" y="528.59" font-size="8.2" text-anchor="end" stroke="#000" stroke-width="0.25" >60%</text>
<line x1="368.70" y1="502.40" x2="370.90" y2="502.40" stroke="#111" stroke-width="1.1"/>
<text x="368.60" y="505.04" font-size="8.2" text-anchor="end" stroke="#000" stroke-width="0.25" >80%</text>
<line x1="406.20" y1="596.60" x2="406.20" y2="598.90" stroke="#111" stroke-width="1.1"/>
<line x1="476.80" y1="596.60" x2="476.80" y2="598.90" stroke="#111" stroke-width="1.1"/>
<line x1="406.20" y1="524.70" x2="476.80" y2="516.80" stroke="#000" stroke-width="1.15"/>
<line x1="406.20" y1="564.40" x2="476.80" y2="556.10" stroke="#000" stroke-width="1.15"/>
<line x1="406.20" y1="564.40" x2="476.80" y2="552.80" stroke="#000" stroke-width="1.15"/>
<line x1="406.20" y1="575.00" x2="476.80" y2="575.40" stroke="#000" stroke-width="1.15"/>
<line x1="406.20" y1="575.00" x2="476.80" y2="567.30" stroke="#000" stroke-width="1.15"/>
<path d="M404.20 523.10L408.20 523.10L406.20 526.70Z" fill="#000"/>
<circle cx="406.20" cy="564.40" r="1.75" fill="#000"/>
<path d="M404.20 566.00L408.20 566.00L406.20 562.40Z" fill="#000"/>
<rect x="404.45" y="573.25" width="3.50" height="3.50" fill="#000"/>
<path d="M404.10 575.00L406.20 572.90L408.30 575.00L406.20 577.10Z" fill="#000"/>
<path d="M474.80 515.20L478.80 515.20L476.80 518.80Z" fill="#000"/>
<path d="M474.80 554.40L478.80 554.40L476.80 550.80Z" fill="#000"/>
<circle cx="476.80" cy="556.10" r="1.75" fill="#000"/>
<path d="M474.70 567.30L476.80 565.20L478.90 567.30L476.80 569.40Z" fill="#000"/>
<rect x="475.05" y="573.65" width="3.50" height="3.50" fill="#000"/>
<text x="437.50" y="495.70" font-size="8.7" text-anchor="middle" stroke="#000" stroke-width="0.25" >p=0.042</text>
<text x="438.50" y="493.10" font-size="22" text-anchor="middle" stroke="#000" stroke-width="0.25" >*</text>
<text x="0" y="0" font-size="9" text-anchor="middle" stroke="#000" stroke-width="0.25" transform="translate(336.30,545.80) rotate(-90)"><tspan font-size="7.2">%</tspan>IFN-&#947;+</text>
<text x="0" y="0" font-size="9.3" text-anchor="middle" stroke="#000" stroke-width="0.25" transform="translate(349.50,546.70) rotate(-90)">in CFSE<tspan font-size="6.70" dx="0.4" dy="-3.72">lo</tspan><tspan dy="3.72"> CD4+ T cells</tspan></text>
<text transform="translate(406.50,611.00) scale(1,1.08)" font-size="8.6" text-anchor="middle" stroke="#000" stroke-width="0.25" >T cells</text>
<text transform="translate(477.50,611.00) scale(1,1.08)" font-size="8.6" text-anchor="middle" stroke="#000" stroke-width="0.25" >T cells</text>
<line x1="404.15" y1="618.30" x2="408.85" y2="618.30" stroke="#000" stroke-width="1.25"/>
<line x1="406.50" y1="615.95" x2="406.50" y2="620.65" stroke="#000" stroke-width="1.25"/>
<line x1="475.15" y1="618.30" x2="479.85" y2="618.30" stroke="#000" stroke-width="1.25"/>
<line x1="477.50" y1="615.95" x2="477.50" y2="620.65" stroke="#000" stroke-width="1.25"/>
<text transform="translate(406.50,632.40) scale(1,1.08)" font-size="8.8" text-anchor="middle" stroke="#000" stroke-width="0.25" >CD14<tspan font-size="5.63" dx="0.42" dy="-3.17">hi</tspan><tspan dx="0.70" dy="3.17">CD16</tspan><tspan font-size="5.63" dx="0.70" dy="-3.17">-</tspan></text>
<text transform="translate(478.00,632.40) scale(1,1.08)" font-size="8.8" text-anchor="middle" stroke="#000" stroke-width="0.25" >CD14<tspan font-size="5.63" dx="0.42" dy="-3.17">hi</tspan><tspan dx="0.70" dy="3.17">CD16</tspan><tspan font-size="5.63" dx="0.70" dy="-3.17">-</tspan></text>
<text x="327.30" y="618.80" font-size="9.9" text-anchor="start" stroke="#000" stroke-width="0.25" >Upper</text>
<text x="327.30" y="656.30" font-size="9.9" text-anchor="start" stroke="#000" stroke-width="0.25" >Lower</text>
<line x1="340.50" y1="637.70" x2="516.50" y2="637.70" stroke="#000" stroke-width="1.5"/>
<text transform="translate(403.00,651.40) scale(1,1.08)" font-size="8.6" text-anchor="middle" stroke="#000" stroke-width="0.25" >Culture</text>
<text transform="translate(403.50,661.50) scale(1,1.08)" font-size="8.6" text-anchor="middle" stroke="#000" stroke-width="0.25" >medium</text>
<text transform="translate(479.50,646.50) scale(1,1.08)" font-size="8.6" text-anchor="middle" stroke="#000" stroke-width="0.25" >T cells</text>
<line x1="476.95" y1="654.60" x2="481.65" y2="654.60" stroke="#000" stroke-width="1.25"/>
<line x1="479.30" y1="652.25" x2="479.30" y2="656.95" stroke="#000" stroke-width="1.25"/>
<text transform="translate(479.70,667.50) scale(1,1.08)" font-size="8.6" text-anchor="middle" stroke="#000" stroke-width="0.25" >CD16+ monocytes</text>
</svg></body></html>
